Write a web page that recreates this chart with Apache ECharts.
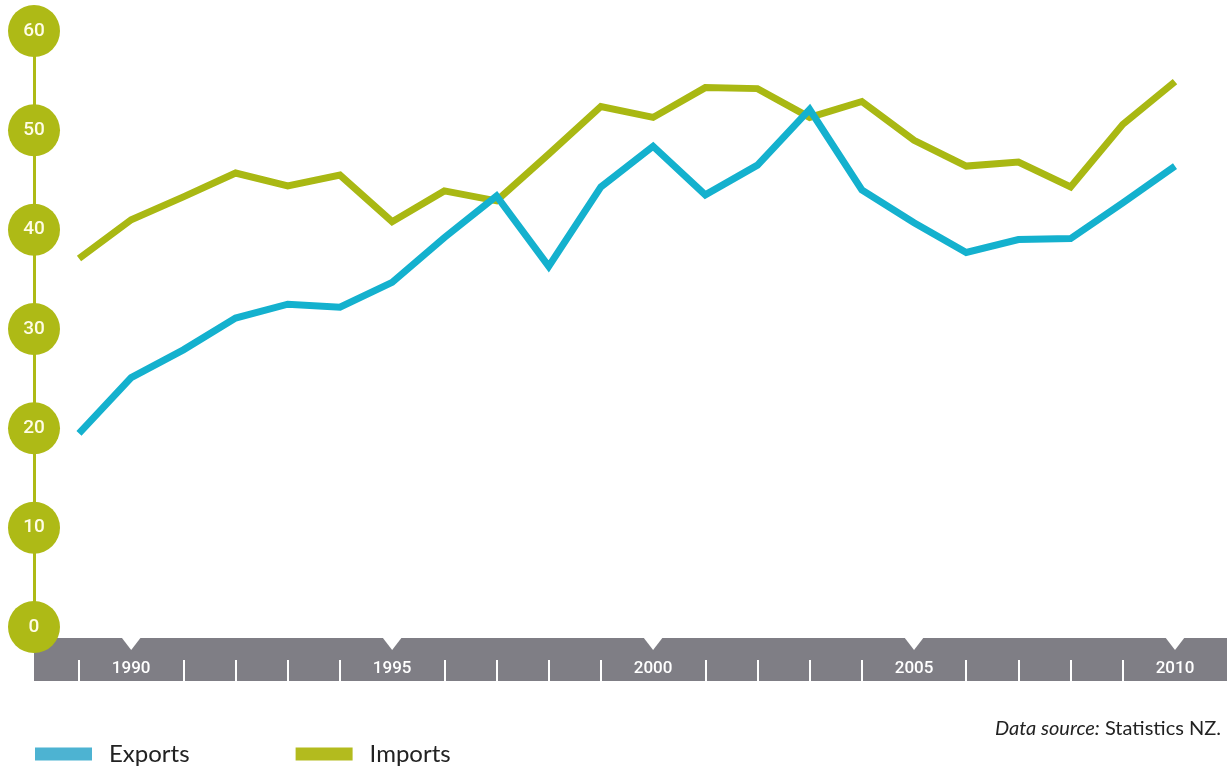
<!DOCTYPE html>
<html>
<head>
<meta charset="utf-8">
<script src="https://cdn.jsdelivr.net/npm/echarts@6/dist/echarts.min.js"></script>
<style>
html,body{margin:0;padding:0;background:#fff;}
#chart{width:1227px;height:774px;}
</style>
</head>
<body>
<div id="chart"></div>
<script>
const years = ['1989','1990','1991','1992','1993','1994','1995','1996','1997','1998','1999','2000','2001','2002','2003','2004','2005','2006','2007','2008','2009','2010'];
const exportsData = [19.5,25.1,27.9,31.1,32.5,32.2,34.7,39.2,43.4,36.3,44.3,48.4,43.5,46.5,52.1,44.0,40.7,37.7,39.0,39.1,42.7,46.4];
const importsData = [37.1,41.0,43.3,45.7,44.4,45.5,40.8,43.9,42.9,47.6,52.4,51.3,54.3,54.2,51.3,52.9,49.0,46.4,46.8,44.3,50.6,54.9];
const yTicks = [0,10,20,30,40,50,60];
const labelYears = ['1990','1995','2000','2005','2010'];

const OLIVE = '#AEBA16';
const BAND = '#7F7E85';
const numFont = 'Roboto,"DejaVu Sans",sans-serif';
const body = 'Lato,"Noto Sans",sans-serif';

const chart = echarts.init(document.getElementById('chart'));
chart.setOption({
  animation: false,
  backgroundColor: '#ffffff',
  grid: [
    {left: 79, right: 52, top: 31, bottom: 147},     // data
    {left: 34, right: 0, top: 31, bottom: 114.5},    // gray band
    {left: 79, right: 52, top: 31, bottom: 114}      // year ticks / labels
  ],
  title: {
    right: 1, top: 714,
    text: '{i|Data source:} Statistics NZ.',
    textStyle: {
      fontFamily: body, fontSize: 20, fontWeight: 'normal', color: '#222',
      rich: {i: {fontFamily: body, fontSize: 20, fontStyle: 'italic', color: '#222'}}
    }
  },
  legend: {
    left: 30, top: 737,
    icon: 'rect', itemWidth: 57, itemHeight: 13, itemGap: 106,
    textStyle: {fontFamily: body, fontSize: 24, color: '#222', padding: [0,0,0,12]},
    data: [
      {name: 'Exports', itemStyle: {color: '#4DB3D2'}},
      {name: 'Imports', itemStyle: {color: '#B3BB1E'}}
    ]
  },
  xAxis: [
    {
      type: 'category', gridIndex: 0, data: years, boundaryGap: false,
      show: false
    },
    {
      type: 'value', gridIndex: 1, min: 0, max: 1, position: 'bottom', z: 0,
      axisLine: {show: true, lineStyle: {color: BAND, width: 43, cap: 'butt'}},
      axisTick: {show: false}, axisLabel: {show: false}, splitLine: {show: false}
    },
    {
      type: 'category', gridIndex: 2, data: years, boundaryGap: false,
      position: 'bottom', z: 3,
      axisLine: {show: false},
      axisTick: {
        show: true, length: 21, inside: false,
        lineStyle: {color: '#ffffff', width: 2},
        interval: function (i, v) { return labelYears.indexOf(v) < 0; }
      },
      axisLabel: {
        interval: 0,
        formatter: function (v) { return labelYears.indexOf(v) >= 0 ? v : ''; },
        color: '#ffffff', fontFamily: numFont, fontSize: 17, fontWeight: 500,
        verticalAlign: 'middle', margin: 9
      },
      splitLine: {show: false}
    }
  ],
  yAxis: [
    {
      type: 'value', gridIndex: 0, min: 0, max: 60, interval: 10,
      offset: 45, z: 5,
      axisLine: {show: true, lineStyle: {color: OLIVE, width: 3}},
      axisTick: {show: false},
      splitLine: {show: false},
      axisLabel: {
        margin: 0, align: 'center', verticalAlign: 'middle',
        width: 52, height: 52, lineHeight: 52, borderRadius: 26,
        backgroundColor: OLIVE, color: '#FFFDE6',
        fontFamily: numFont, fontSize: 19, fontWeight: 500,
        formatter: function (v) { return yTicks.indexOf(v) >= 0 ? String(v) : ''; }
      }
    },
    {type: 'value', gridIndex: 1, min: 0, max: 1, show: false},
    {type: 'value', gridIndex: 2, min: 0, max: 1, show: false}
  ],
  series: [
    {
      name: 'Imports', type: 'line', xAxisIndex: 0, yAxisIndex: 0,
      data: importsData, symbol: 'none', z: 3,
      lineStyle: {color: '#A9B813', width: 7, join: 'miter'},
      itemStyle: {color: '#B3BB1E'}
    },
    {
      name: 'Exports', type: 'line', xAxisIndex: 0, yAxisIndex: 0,
      data: exportsData, symbol: 'none', z: 4,
      lineStyle: {color: '#14B1CE', width: 7, join: 'miter'},
      itemStyle: {color: '#4DB3D2'}
    },
    {
      type: 'custom', xAxisIndex: 0, yAxisIndex: 0, clip: false, z: 4,
      silent: true,
      data: labelYears.map(function (y) { return [years.indexOf(y), 0]; }),
      renderItem: function (params, api) {
        const p = api.coord([api.value(0), api.value(1)]);
        return {
          type: 'polygon',
          shape: {points: [[p[0] - 10, p[1] + 10], [p[0] + 10, p[1] + 10], [p[0], p[1] + 23]]},
          style: {fill: '#ffffff'}
        };
      }
    }
  ]
});
</script>
</body>
</html>
